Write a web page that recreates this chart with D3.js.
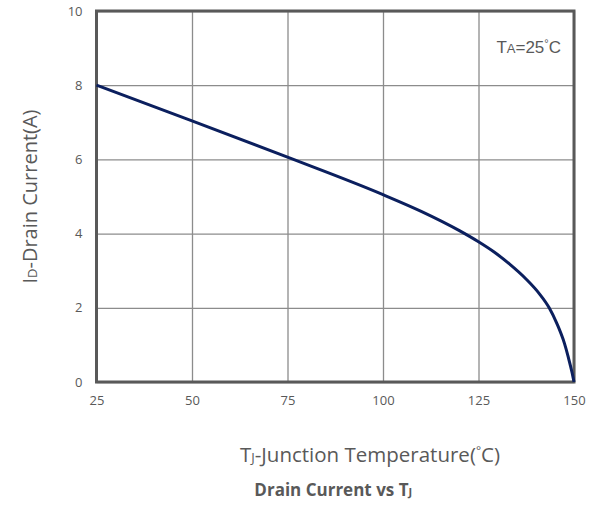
<!DOCTYPE html>
<html>
<head>
<meta charset="utf-8">
<script src="https://cdn.jsdelivr.net/npm/d3@7"></script>
<style>
  body { margin: 0; background: #fff; }
  text { font-family: "Open Sans", sans-serif; fill: #595959; }
</style>
</head>
<body>
<svg width="596" height="505"></svg>
<script>
// values
var tempC   = [25, 50, 75, 100, 110, 120, 125, 129, 133, 137.5, 141, 143.5, 145.5, 147.5, 148.5, 149.5, 150];
var current = [8.0, 7.04, 6.06, 5.05, 4.6, 4.08, 3.78, 3.51, 3.19, 2.77, 2.37, 2.0, 1.58, 1.04, 0.67, 0.25, 0];
var xTicks  = [25, 50, 75, 100, 125, 150];
var yTicks  = [0, 2, 4, 6, 8, 10];

var svg = d3.select("svg"),
    margin = {top: 11, right: 22, bottom: 123, left: 96.5},
    width = 596 - margin.left - margin.right,
    height = 505 - margin.top - margin.bottom,
    g = svg.append("g").attr("transform", "translate(" + margin.left + "," + margin.top + ")");

var x = d3.scaleLinear().domain([25, 150]).range([0, width]),
    y = d3.scaleLinear().domain([0, 10]).range([height, 0]);

var data = tempC.map(function(t, i) { return {t: t, i: current[i]}; });

// grid
g.append("g")
  .call(d3.axisBottom(x).tickValues(xTicks).tickSize(height).tickFormat(""))
  .call(function(a) { a.select(".domain").remove(); })
  .selectAll("line").attr("stroke", "#8c8c8c").attr("stroke-width", 1.3);

g.append("g")
  .call(d3.axisLeft(y).tickValues(yTicks).tickSize(-width).tickFormat(""))
  .call(function(a) { a.select(".domain").remove(); })
  .selectAll("line").attr("stroke", "#8c8c8c").attr("stroke-width", 1.3);

// frame
g.append("rect")
  .attr("width", width).attr("height", height)
  .attr("fill", "none").attr("stroke", "#595959").attr("stroke-width", 3);

// tick labels
var xAx = g.append("g")
  .attr("transform", "translate(0," + height + ")")
  .call(d3.axisBottom(x).tickValues(xTicks).tickSize(0).tickPadding(14));
xAx.select(".domain").remove();
xAx.selectAll("text").style("font-size", "13px").attr("fill", "#595959");

var yAx = g.append("g")
  .call(d3.axisLeft(y).tickValues(yTicks).tickSize(0).tickPadding(14));
yAx.select(".domain").remove();
yAx.selectAll("text").style("font-size", "13px").attr("fill", "#595959");

// curve
var line = d3.line()
  .curve(d3.curveMonotoneX)
  .x(function(d) { return x(d.t); })
  .y(function(d) { return y(d.i); });

g.append("path")
  .datum(data)
  .attr("d", line)
  .attr("fill", "none")
  .attr("stroke", "#0b1f5e")
  .attr("stroke-width", 3);

// annotation
var ta = g.append("text")
  .attr("x", width - 13).attr("y", 42)
  .attr("text-anchor", "end")
  .style("font-family", "'Liberation Sans', Arial, sans-serif")
  .style("font-size", "17px")
  .attr("fill", "#7f7f7f");
ta.append("tspan").text("T");
ta.append("tspan").style("font-size", "13px").text("A");
ta.append("tspan").text("=25");
ta.append("tspan").style("font-size", "11px").attr("dy", -6).text("°");
ta.append("tspan").attr("dy", 6).text("C");

// axis titles
var yl = svg.append("text")
  .attr("transform", "translate(37," + (margin.top + height / 2) + ") rotate(-90)")
  .attr("text-anchor", "middle")
  .style("font-size", "20px");
yl.append("tspan").text("I");
yl.append("tspan").style("font-size", "13px").text("D");
yl.append("tspan").text("-Drain Current(A)");

var xl = svg.append("text")
  .attr("x", 370).attr("y", 462)
  .attr("text-anchor", "middle")
  .style("font-size", "20.5px");
xl.append("tspan").text("T");
xl.append("tspan").style("font-size", "13px").text("J");
xl.append("tspan").text("-Junction Temperature(");
xl.append("tspan").style("font-size", "12px").attr("dy", -7).text("°");
xl.append("tspan").attr("dy", 7).text("C)");

var tt = svg.append("text")
  .attr("x", margin.left + width / 2 - 2).attr("y", 496)
  .attr("text-anchor", "middle")
  .style("font-size", "17px")
  .style("font-weight", "bold");
tt.append("tspan").text("Drain Current vs T");
tt.append("tspan").style("font-size", "11px").text("J");
</script>
</body>
</html>
